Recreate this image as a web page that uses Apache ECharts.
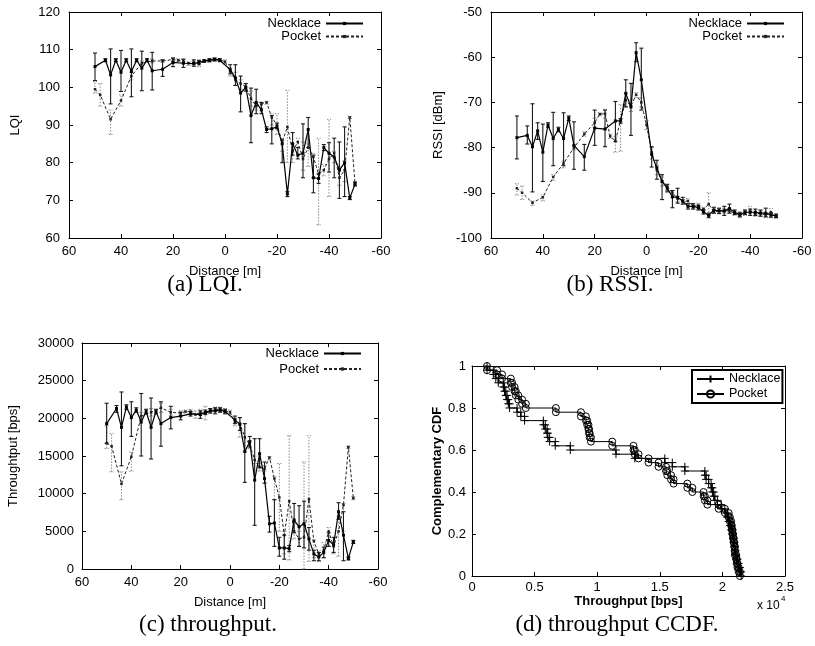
<!DOCTYPE html>
<html><head><meta charset="utf-8">
<script src="https://cdn.jsdelivr.net/npm/echarts/dist/echarts.min.js"></script>
<style>html,body{margin:0;padding:0;background:#fff}#main{width:815px;height:646px}</style>
</head><body><div id="main"></div>
<script>
// ---------------- DATA ----------------
const necklaceDist = [50,46,44,42,40,38,36,34,32,30,28,24,20,16,12,10,8,6,4,2,-2,-4,-6,-8,-10,-12,-14,-16,-18,-20,-22,-24,-26,-28,-30,-32,-34,-36,-38,-40,-42,-44,-46,-48,-50];
const pocketDist = [50,48,44,40,36,32,28,24,20,18,16,14,12,10,8,6,4,2,0,-2,-4,-6,-8,-10,-12,-14,-16,-18,-20,-22,-24,-26,-28,-30,-32,-34,-36,-38,-40,-42,-44,-46,-48,-50];

// (a) LQI
const lqiNecklace = [105.5,107.2,103.3,107.2,104.0,107.2,104.2,107.2,105.1,107.2,104.4,104.8,106.6,106.4,106.3,106.7,107.0,107.2,107.4,107.2,104.7,102.5,98.5,100.0,92.5,96.0,94.0,88.8,89.0,89.5,85.0,71.7,85.0,82.0,82.5,88.8,76.0,75.8,84.0,82.5,81.5,78.0,80.0,70.6,74.3];
const lqiNecklaceLow = [101.8,106.8,95.6,106.8,98.9,106.8,97.5,106.8,99.1,106.8,99.3,102.9,105.5,105.3,105.6,106.2,106.7,106.8,107.0,106.8,103.6,100.5,93.5,99.0,85.3,93.0,93.0,88.0,85.0,89.0,80.0,71.0,82.0,81.0,76.0,84.0,72.0,74.5,83.2,77.5,76.0,70.5,71.0,70.2,73.8];
const lqiNecklaceHigh = [109.1,107.6,110.2,107.6,109.8,107.6,110.2,107.6,109.6,107.6,109.3,107.3,107.8,107.5,107.3,107.2,107.3,107.6,107.8,107.6,106.0,106.0,103.0,101.0,99.8,99.5,96.0,89.5,92.5,90.5,86.0,72.3,88.0,84.0,90.3,92.0,82.0,77.0,84.8,85.3,86.5,85.5,89.5,71.0,74.8];
const lqiPocket = [99.5,98.0,91.5,96.5,103.0,106.4,107.0,107.0,107.4,107.2,107.0,106.4,106.6,106.2,107.0,107.1,107.4,107.3,106.8,104.2,102.0,101.0,100.2,97.0,95.0,95.5,96.0,92.0,90.0,85.5,89.5,83.0,85.5,81.0,84.0,81.5,77.0,78.0,81.0,82.5,76.0,78.0,92.0,74.5];
const lqiPocketLow = [98.5,95.0,87.5,95.0,102.0,105.8,106.5,106.6,107.0,106.8,106.5,105.8,106.0,105.5,106.6,106.7,107.0,107.0,106.2,103.0,100.5,99.5,99.0,95.0,94.0,94.5,95.5,90.0,87.5,83.0,80.0,80.0,84.0,78.0,79.0,76.0,63.5,76.5,71.0,80.0,74.0,75.0,91.7,74.0];
const lqiPocketHigh = [101.5,101.0,94.0,98.0,104.0,107.0,107.5,107.4,107.8,107.6,107.4,106.8,107.0,107.0,107.4,107.5,107.8,107.6,107.3,105.2,104.0,102.0,101.0,99.0,96.0,96.0,96.3,93.0,93.0,86.5,99.2,85.0,86.5,85.5,85.0,82.5,86.5,79.5,91.5,83.0,79.0,80.5,92.3,75.0];

// (b) RSSI
const rssiNecklace = [-77.8,-77.3,-79.8,-76.3,-81.0,-75.0,-78.0,-76.0,-78.0,-73.5,-79.5,-82.0,-75.7,-75.9,-74.1,-74.1,-68.0,-71.0,-59.0,-65.0,-81.5,-84.5,-87.5,-89.0,-90.9,-91.0,-91.8,-93.0,-93.0,-93.3,-94.2,-95.0,-93.8,-94.0,-94.0,-93.5,-94.3,-94.8,-94.3,-94.3,-94.3,-94.5,-94.5,-94.9,-95.1];
const rssiNecklaceLow = [-82.5,-79.2,-89.8,-78.2,-87.5,-75.5,-84.0,-76.5,-84.0,-74.0,-84.8,-85.0,-79.5,-79.8,-78.7,-74.6,-71.0,-77.3,-61.0,-71.7,-84.3,-87.0,-91.5,-89.8,-93.3,-92.3,-92.5,-93.6,-93.6,-93.8,-94.7,-95.5,-94.5,-94.6,-95.0,-94.5,-94.8,-95.3,-94.8,-95.0,-95.0,-95.2,-95.3,-95.4,-95.5];
const rssiNecklaceHigh = [-73.0,-75.2,-70.3,-74.5,-74.8,-74.5,-72.2,-75.5,-72.3,-73.0,-74.3,-79.3,-71.7,-71.7,-69.8,-73.6,-65.0,-65.8,-56.8,-58.0,-79.8,-82.8,-86.0,-88.2,-89.5,-89.0,-91.0,-92.4,-92.4,-92.8,-93.7,-94.5,-93.2,-93.4,-93.0,-92.5,-93.8,-94.3,-93.8,-93.6,-93.6,-93.8,-93.4,-94.4,-94.7];
const rssiPocket = [-89.0,-90.0,-92.2,-91.0,-86.5,-83.5,-80.0,-77.0,-74.5,-72.6,-72.5,-77.5,-78.5,-74.0,-69.5,-70.8,-68.3,-70.0,-75.0,-81.0,-85.0,-87.5,-88.6,-90.0,-91.3,-92.0,-91.8,-93.0,-92.8,-93.6,-92.5,-94.2,-94.0,-94.0,-94.0,-94.5,-95.0,-94.5,-94.0,-94.8,-94.5,-95.0,-94.3,-95.3];
const rssiPocketLow = [-90.5,-91.5,-92.8,-91.8,-87.3,-84.5,-80.5,-77.5,-75.5,-73.0,-73.5,-78.0,-81.0,-80.8,-71.0,-72.0,-69.0,-71.0,-76.0,-82.5,-86.0,-88.5,-89.5,-91.0,-92.0,-92.5,-92.5,-93.5,-93.3,-94.0,-95.0,-94.6,-94.5,-94.5,-94.5,-95.0,-95.5,-95.0,-95.0,-95.2,-95.0,-95.5,-95.5,-95.6];
const rssiPocketHigh = [-88.0,-88.5,-91.8,-90.5,-86.0,-83.0,-79.5,-76.5,-73.5,-72.3,-71.5,-77.0,-77.5,-70.5,-68.0,-69.5,-67.8,-69.0,-74.0,-80.0,-84.0,-86.5,-88.0,-89.5,-90.8,-91.5,-91.3,-92.5,-92.3,-93.2,-90.0,-93.8,-93.5,-93.5,-93.5,-94.0,-94.5,-94.0,-93.0,-94.4,-94.0,-94.5,-93.5,-95.0];

// (c) throughput [bps]
const tputNecklace = [19300,21300,18800,21500,20100,21100,19500,20900,18800,20900,19300,20100,20300,20600,20500,20800,21000,21000,21100,20900,19800,19200,15600,16900,11800,15300,12000,6000,6100,2800,2800,2700,6500,5600,6000,4000,2000,1600,2200,3800,3200,7600,4500,1400,3600];
const tputNecklaceLow = [16700,20800,13700,21200,17600,20800,15000,20600,14600,20600,16300,18600,19800,20300,20000,20500,20700,20600,20800,20600,19300,18400,11500,16200,5800,13500,11400,4900,3000,1700,1300,2300,4800,3000,2800,2500,1100,1100,1500,3000,2200,6600,1100,1200,3400];
const tputNecklaceHigh = [22000,21700,23500,21800,22200,21400,23300,21200,22700,21200,22200,21600,20800,20900,21000,21100,21300,21400,21400,21200,20300,20100,19300,17600,17300,17300,14200,7000,9200,4200,4500,3100,8700,8400,9000,5500,2500,2200,2900,4800,4200,8800,7600,1600,3800];
const tputPocket = [16700,16300,11300,14900,20300,20800,21400,20800,20700,20900,20900,20500,20800,20600,21000,21200,21200,21000,20800,19500,19300,17500,16500,14500,13500,13300,14800,12000,9500,4500,9000,5000,4000,4200,9300,3700,2000,2500,5000,3000,5000,8500,16200,9400];
const tputPocketLow = [16000,12900,9200,13000,19800,20300,20800,20400,20400,20700,20600,20000,20400,19800,20700,20900,20900,20700,20500,19000,17500,15500,16000,14000,13000,13000,14500,9200,5000,2000,1200,4000,3000,0,1000,1500,1000,1500,3000,2000,1700,5000,16000,9200];
const tputPocketHigh = [19000,18000,12900,15500,20800,21300,22000,21200,21000,21100,21200,21000,21200,21600,21300,21500,21500,21300,21100,20000,20100,19300,17000,15000,14000,13700,14900,12300,14000,5000,17700,6000,5000,14200,17700,3900,2500,3500,5500,3500,7000,8700,16300,9600];

// (d) throughput CCDF: sorted throughput values [bps] and CCDF level after each step
const ccdfNecklaceX = [1200,1700,1900,2100,2500,2600,2700,2800,2900,3000,3600,3900,4200,5700,5850,6000,6050,6200,6650,7850,11500,13000,15400,16000,17000,18600,18700,18900,19100,19200,19300,19400,19600,19900,20200,20400,20500,20600,20700,20800,20850,20900,20950,21000,21050,21100,21200,21300,21400,21500];
const ccdfNecklaceY = [0.98,0.96,0.94,0.92,0.90,0.88,0.86,0.84,0.82,0.80,0.78,0.76,0.74,0.72,0.70,0.68,0.66,0.64,0.62,0.60,0.58,0.56,0.54,0.52,0.50,0.48,0.46,0.44,0.42,0.40,0.38,0.36,0.34,0.32,0.30,0.28,0.26,0.24,0.22,0.20,0.18,0.16,0.14,0.12,0.10,0.08,0.06,0.04,0.02,0.00];
const ccdfPocketX = [1200,2000,2400,3100,3200,3400,3500,3700,4000,4300,6700,8700,9100,9200,9300,9350,9400,9500,11200,12900,13000,13300,14100,14900,15500,15600,15900,16100,17200,17600,18500,18600,18800,19700,20200,20500,20600,20700,20750,20800,20850,20900,20950,21000,21000,21100,21150,21200,21300,21400];
const ccdfPocketY = [0.98,0.96,0.94,0.92,0.90,0.88,0.86,0.84,0.82,0.80,0.78,0.76,0.74,0.72,0.70,0.68,0.66,0.64,0.62,0.60,0.58,0.56,0.54,0.52,0.50,0.48,0.46,0.44,0.42,0.40,0.38,0.36,0.34,0.32,0.30,0.28,0.26,0.24,0.22,0.20,0.18,0.16,0.14,0.12,0.10,0.08,0.06,0.04,0.02,0.00];
const ccdfStart = 1.0;

const seriesNames = ['Necklace', 'Pocket'];
const captions = ['(a) LQI.', '(b) RSSI.', '(c) throughput.', '(d) throughput CCDF.'];

// ---------------- LAYOUT / STYLE ----------------
const FONT = '"Liberation Sans", Arial, Helvetica, sans-serif';
const SERIF = '"Liberation Serif", "Times New Roman", serif';
const AX = '#000';
const GRIDS = [
  {left: 69, top: 12, width: 312, height: 226},
  {left: 491, top: 12, width: 311, height: 226},
  {left: 82, top: 343, width: 296, height: 226},
  {left: 472, top: 366, width: 313, height: 210}
];
const xAxes = [], yAxes = [], series = [];

function baseAxis(g) {
  return {
    gridIndex: g, type: 'value',
    splitLine: {show: false},
    axisLine: {show: true, onZero: false, lineStyle: {color: AX, width: 1}},
    axisTick: {show: true, inside: true, length: 4, lineStyle: {color: AX, width: 1}}
  };
}
function frameAxes(g, xs, ys, xl, yl) {
  xAxes.push(Object.assign(baseAxis(g), xs, {
    position: 'bottom', name: xl.name, nameLocation: 'middle', nameGap: xl.gap,
    nameTextStyle: {color: AX, fontSize: xl.size || 13, fontFamily: FONT, fontWeight: xl.bold ? 'bold' : 'normal'},
    axisLabel: {color: AX, fontSize: 13, fontFamily: FONT, margin: xl.margin, formatter: xl.fmt}
  }));
  xAxes.push(Object.assign(baseAxis(g), xs, {position: 'top', axisLabel: {show: false}}));
  yAxes.push(Object.assign(baseAxis(g), ys, {
    position: 'left', name: yl.name, nameLocation: 'middle', nameGap: yl.gap,
    nameTextStyle: {color: AX, fontSize: yl.size || 13, fontFamily: FONT, fontWeight: yl.bold ? 'bold' : 'normal'},
    axisLabel: {color: AX, fontSize: 13, fontFamily: FONT, margin: yl.margin, formatter: yl.fmt}
  }));
  yAxes.push(Object.assign(baseAxis(g), ys, {position: 'right', axisLabel: {show: false}}));
}

function errRender(color, dash, width) {
  return function (params, api) {
    const x = api.value(0), lo = api.value(1), hi = api.value(2);
    const a = api.coord([x, lo]), b = api.coord([x, hi]);
    const c = 2;
    const st = {stroke: color, lineWidth: width, lineDash: dash, fill: null};
    return {type: 'group', children: [
      {type: 'line', shape: {x1: a[0], y1: a[1], x2: b[0], y2: b[1]}, style: st},
      {type: 'line', shape: {x1: a[0] - c, y1: a[1], x2: a[0] + c, y2: a[1]}, style: st},
      {type: 'line', shape: {x1: b[0] - c, y1: b[1], x2: b[0] + c, y2: b[1]}, style: st}
    ]};
  };
}

function distSeries(g, nMean, nLo, nHi, pMean, pLo, pHi) {
  const ax = {xAxisIndex: 2 * g, yAxisIndex: 2 * g};
  series.push(Object.assign({
    type: 'custom', silent: true, animation: false, z: 2,
    data: pocketDist.map((d, i) => [d, pLo[i], pHi[i]]),
    encode: {x: 0, y: [1, 2]},
    renderItem: errRender('#8a8a8a', [1.5, 1.5], 1)
  }, ax));
  series.push(Object.assign({
    type: 'line', name: seriesNames[1], animation: false, z: 3,
    data: pocketDist.map((d, i) => [d, pMean[i]]),
    symbol: 'rect', symbolSize: 2.5, showSymbol: true,
    itemStyle: {color: '#222'},
    lineStyle: {color: '#222', width: 1, type: [3, 2]}
  }, ax));
  series.push(Object.assign({
    type: 'custom', silent: true, animation: false, z: 4,
    data: necklaceDist.map((d, i) => [d, nLo[i], nHi[i]]),
    encode: {x: 0, y: [1, 2]},
    renderItem: errRender('#1a1a1a', null, 1.1)
  }, ax));
  series.push(Object.assign({
    type: 'line', name: seriesNames[0], animation: false, z: 5,
    data: necklaceDist.map((d, i) => [d, nMean[i]]),
    symbol: 'rect', symbolSize: 3, showSymbol: true,
    itemStyle: {color: '#000'},
    lineStyle: {color: '#000', width: 1.2, type: 'solid'}
  }, ax));
}

function stairs(xs, ys) {
  const out = [];
  let prev = ccdfStart;
  xs.forEach((x, i) => { out.push([x, prev]); out.push([x, ys[i]]); prev = ys[i]; });
  return out;
}

const distScale = {min: -60, max: 60, interval: 20, inverse: true};
const plain = v => String(v);

frameAxes(0, distScale, {min: 60, max: 120, interval: 10},
  {name: 'Distance [m]', gap: 27, margin: 7, fmt: plain},
  {name: 'LQI', gap: 47, margin: 9, fmt: plain});
frameAxes(1, distScale, {min: -100, max: -50, interval: 10},
  {name: 'Distance [m]', gap: 27, margin: 7, fmt: plain},
  {name: 'RSSI [dBm]', gap: 46, margin: 9, fmt: plain});
frameAxes(2, distScale, {min: 0, max: 30000, interval: 5000},
  {name: 'Distance [m]', gap: 27, margin: 7, fmt: plain},
  {name: 'Throughtput [bps]', gap: 62, margin: 8, fmt: plain});
frameAxes(3, {min: 0, max: 25000, interval: 5000}, {min: 0, max: 1, interval: 0.2},
  {name: 'Throughput [bps]', gap: 18, margin: 5, bold: true, size: 13, fmt: v => String(+(v / 10000).toFixed(1))},
  {name: 'Complementary CDF', gap: 19, margin: 6, bold: true, size: 13, fmt: v => String(+v.toFixed(1))});

distSeries(0, lqiNecklace, lqiNecklaceLow, lqiNecklaceHigh, lqiPocket, lqiPocketLow, lqiPocketHigh);
distSeries(1, rssiNecklace, rssiNecklaceLow, rssiNecklaceHigh, rssiPocket, rssiPocketLow, rssiPocketHigh);
distSeries(2, tputNecklace, tputNecklaceLow, tputNecklaceHigh, tputPocket, tputPocketLow, tputPocketHigh);

series.push({
  type: 'line', name: seriesNames[0] + ' CCDF', xAxisIndex: 6, yAxisIndex: 6, animation: false, z: 5,
  data: stairs(ccdfNecklaceX, ccdfNecklaceY),
  symbol: 'path://M5 0L5 10M0 5L10 5', symbolSize: 8, showSymbol: true,
  itemStyle: {color: 'rgba(0,0,0,0)', borderColor: '#000', borderWidth: 1},
  lineStyle: {color: '#000', width: 1}
});
series.push({
  type: 'line', name: seriesNames[1] + ' CCDF', xAxisIndex: 6, yAxisIndex: 6, animation: false, z: 4,
  data: stairs(ccdfPocketX, ccdfPocketY),
  symbol: 'circle', symbolSize: 7, showSymbol: true,
  itemStyle: {color: 'rgba(0,0,0,0)', borderColor: '#000', borderWidth: 1},
  lineStyle: {color: '#000', width: 1}
});

function distLegend(right, top, gap) {
  return {
    data: seriesNames.slice(), orient: 'vertical', align: 'right', right: right, top: top,
    itemWidth: 37, itemHeight: 4, itemGap: gap, padding: 0, selectedMode: false,
    textStyle: {color: AX, fontSize: 13, fontFamily: FONT, lineHeight: 12}
  };
}
const legends = [
  distLegend(451, 17, 0),
  distLegend(30, 17, 0),
  distLegend(453, 347, 2.5),
  {
    data: seriesNames.map(n => n + ' CCDF'), formatter: n => n.replace(' CCDF', ''),
    orient: 'vertical', align: 'left', left: 692, top: 370,
    itemWidth: 27, itemHeight: 9, itemGap: 1, padding: [2, 2, 2, 4], selectedMode: false,
    borderColor: '#000', borderWidth: 2, backgroundColor: '#fff',
    textStyle: {color: AX, fontSize: 12.5, fontFamily: FONT, lineHeight: 14}
  }
];

const capPos = [[205, 285], [610, 285], [208, 625], [617, 625]];
const graphics = captions.map((t, i) => ({
  type: 'text', x: capPos[i][0], y: capPos[i][1], silent: true,
  style: {text: t, font: '23px ' + SERIF, fill: '#000', align: 'center', verticalAlign: 'middle', textAlign: 'center', textVerticalAlign: 'middle'}
}));
graphics.push({type: 'text', x: 757, y: 606, silent: true,
  style: {text: 'x 10', font: '12px ' + FONT, fill: '#000', align: 'left', verticalAlign: 'middle', textAlign: 'left', textVerticalAlign: 'middle'}});
graphics.push({type: 'text', x: 781, y: 599, silent: true,
  style: {text: '4', font: '8px ' + FONT, fill: '#000', align: 'left', verticalAlign: 'middle', textAlign: 'left', textVerticalAlign: 'middle'}});

const chart = echarts.init(document.getElementById('main'), null, {renderer: 'canvas'});
chart.setOption({
  backgroundColor: '#fff',
  animation: false,
  grid: GRIDS,
  xAxis: xAxes,
  yAxis: yAxes,
  legend: legends,
  series: series,
  graphic: graphics
});
</script></body></html>
